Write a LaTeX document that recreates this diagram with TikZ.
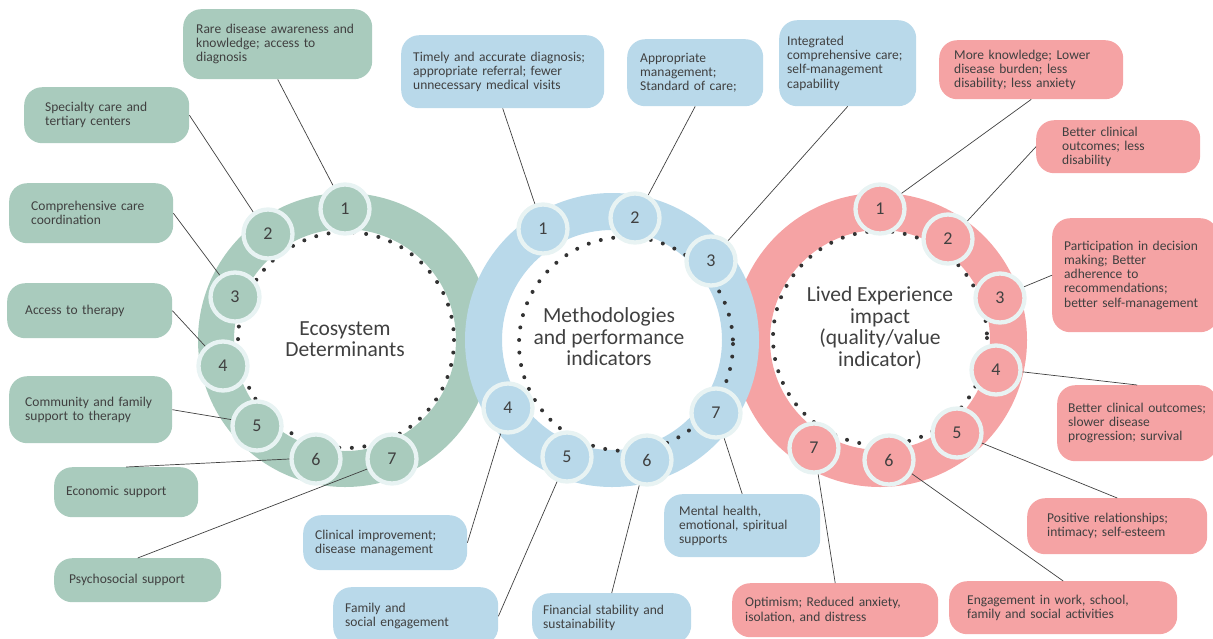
\documentclass[tikz,border=0pt]{standalone}
\usepackage{fontspec}
\setmainfont{Carlito}
\usetikzlibrary{positioning}
\definecolor{ecogreen}{RGB}{169,203,189}
\definecolor{methblue}{RGB}{185,217,234}
\definecolor{livedpink}{RGB}{245,163,164}
\definecolor{rimwhite}{RGB}{232,243,243}
\definecolor{inkgray}{RGB}{64,64,64}
\definecolor{dotgray}{RGB}{51,51,51}
\tikzset{
  txtbox/.style={rounded corners=18pt, anchor=north west, align=left,
                 inner ysep=0pt, text=inkgray,
                 font=\fontsize{13.5}{14.2}\selectfont},
  boxdim/.code n args={3}{%
    \pgfmathsetlengthmacro\boxtw{#1-2*#3}%
    \edef\next{\noexpand\pgfkeysalso{minimum width=#1, minimum height=#2,
      inner xsep=#3, text width=\boxtw}}\next},
  numdot/.style={circle, draw=rimwhite, line width=4.3pt, minimum size=49pt,
                 inner sep=0pt, text=inkgray, font=\fontsize{18}{18}\selectfont},
  dotring/.style={dotgray, line width=4pt, line cap=round,
                  dash pattern=on 0pt off 12.6pt},
  link/.style={inkgray, line width=0.7pt},
  title/.style={align=center, text=inkgray, font=\fontsize{21.5}{21.5}\selectfont},
}
\begin{document}
\begin{tikzpicture}[x=1pt, y=-1pt]
  \useasboundingbox (0,0) rectangle (1213,638);
  \clip (0,0) rectangle (1213,638);

  % rings
  \fill[ecogreen, even odd rule] (345,340) circle[radius=147] (345,340) circle[radius=111];
  \fill[livedpink, even odd rule] (880,340) circle[radius=147] (880,340) circle[radius=110];
  \fill[methblue, even odd rule] (612,340) circle[radius=147] (612,340) circle[radius=110];
  \draw[dotring] (346,340) circle[radius=108];
  \draw[dotring] (626,344) circle[radius=107];
  \draw[dotring] (880,338) circle[radius=107];

  \node[title] (ecotitle) at (345,339) {Ecosystem\\Determinants};
  \node[title] (methtitle) at (609,337) {Methodologies\\and performance\\indicators};
  \node[title] (livedtitle) at (880,328) {Lived Experience\\impact\\(quality/value\\indicator)};

  % numbered circles
  \node[numdot, fill=ecogreen] (e1) at (345,209) {1};
  \node[numdot, fill=ecogreen] (e2) at (268,234) {2};
  \node[numdot, fill=ecogreen] (e3) at (235,297) {3};
  \node[numdot, fill=ecogreen] (e4) at (223,366) {4};
  \node[numdot, fill=ecogreen] (e5) at (257,426) {5};
  \node[numdot, fill=ecogreen] (e6) at (316,459) {6};
  \node[numdot, fill=ecogreen] (e7) at (392,459) {7};

  \node[numdot, fill=methblue] (m1) at (543,229) {1};
  \node[numdot, fill=methblue] (m2) at (635,218) {2};
  \node[numdot, fill=methblue] (m3) at (711,261) {3};
  \node[numdot, fill=methblue] (m4) at (508,408) {4};
  \node[numdot, fill=methblue] (m5) at (567,457) {5};
  \node[numdot, fill=methblue] (m6) at (647,460) {6};
  \node[numdot, fill=methblue] (m7) at (716,413) {7};

  \node[numdot, fill=livedpink] (l1) at (880,209) {1};
  \node[numdot, fill=livedpink] (l2) at (948,239) {2};
  \node[numdot, fill=livedpink] (l3) at (1000,298) {3};
  \node[numdot, fill=livedpink] (l4) at (996,370) {4};
  \node[numdot, fill=livedpink] (l5) at (957,433) {5};
  \node[numdot, fill=livedpink] (l6) at (889,460) {6};
  \node[numdot, fill=livedpink] (l7) at (814,448) {7};

  % text boxes
  \node[txtbox, fill=ecogreen, boxdim={189}{70}{13}] (eb1) at (183,9) {Rare disease awareness and\\knowledge; access to\\diagnosis};
  \node[txtbox, fill=ecogreen, boxdim={165}{56}{21}] (eb2) at (24,87) {Specialty care and\\tertiary centers};
  \node[txtbox, fill=ecogreen, boxdim={164}{60}{22}] (eb3) at (9,183) {Comprehensive care\\coordination};
  \node[txtbox, fill=ecogreen, boxdim={165}{55}{18}] (eb4) at (7,283) {Access to therapy};
  \node[txtbox, fill=ecogreen, boxdim={163}{67}{16}] (eb5) at (9,376) {Community and family\\support to therapy};
  \node[txtbox, fill=ecogreen, boxdim={144}{50}{12}] (eb6) at (54,467) {Economic support};
  \node[txtbox, fill=ecogreen, boxdim={167}{44}{15}] (eb7) at (54,558) {Psychosocial support};

  \node[txtbox, fill=methblue, boxdim={203}{73}{12}] (mb1) at (401,35) {Timely and accurate diagnosis;\\appropriate referral; fewer\\unnecessary medical visits};
  \node[txtbox, fill=methblue, boxdim={136}{67}{13}] (mb2) at (627,39) {Appropriate\\management;\\Standard of care;};
  \node[txtbox, fill=methblue, boxdim={137}{86}{8}] (mb3) at (779,20) {Integrated\\comprehensive care;\\self-management\\capability};
  \node[txtbox, fill=methblue, boxdim={164}{55}{12}] (mb4) at (303,515) {Clinical improvement;\\disease management};
  \node[txtbox, fill=methblue, boxdim={165}{58}{12}] (mb5) at (333,587) {Family and\\social engagement};
  \node[txtbox, fill=methblue, boxdim={159}{50}{11}] (mb6) at (532,593) {Financial stability and\\sustainability};
  \node[txtbox, fill=methblue, boxdim={156}{63}{15}] (mb7) at (664,494) {Mental health,\\emotional, spiritual\\supports};

  \node[txtbox, fill=livedpink, boxdim={184}{59}{15}] (lb1) at (939,40) {More knowledge; Lower\\disease burden; less\\disability; less anxiety};
  \node[txtbox, fill=livedpink, boxdim={164}{53}{26}] (lb2) at (1036,120) {Better clinical\\outcomes; less\\disability};
  \node[txtbox, fill=livedpink, boxdim={166}{114}{12}] (lb3) at (1052,218) {Participation in decision\\making; Better\\adherence to\\recommendations;\\better self-management};
  \node[txtbox, fill=livedpink, boxdim={160}{76}{11}] (lb4) at (1057,385) {Better clinical outcomes;\\slower disease\\progression; survival};
  \node[txtbox, fill=livedpink, boxdim={180}{56}{20}] (lb5) at (1027,498) {Positive relationships;\\intimacy; self-esteem};
  \node[txtbox, fill=livedpink, boxdim={228}{53}{18}] (lb6) at (949,581) {Engagement in work, school,\\family and social activities};
  \node[txtbox, fill=livedpink, boxdim={206}{54}{13}] (lb7) at (732,583) {Optimism; Reduced anxiety,\\isolation, and distress};

  % connectors
  \draw[link] (eb1.south) -- (e1.117);
  \draw[link] (eb2.east) -- (e2.124);
  \draw[link] (eb3.east) -- (e3.125);
  \draw[link] (eb4.east) -- (e4.132);
  \draw[link] (eb5.east) -- (e5.166);
  \draw[link] (eb6.north) -- (e6.180);
  \draw[link] (eb7.north) -- (e7.202);

  \draw[link] (mb1.south) -- (m1.108);
  \draw[link] (mb2.south) -- (m2.60);
  \draw[link] (mb3.south) -- (m3.50);
  \draw[link] (m4.254) -- (mb4.east);
  \draw[link] (m5.248) -- (mb5.east);
  \draw[link] (m6.253) -- (mb6.north);
  \draw[link] (m7.288) -- (mb7.north);

  \draw[link] (l1.36) -- (lb1.south);
  \draw[link] (l2.43) -- (lb2.west);
  \draw[link] (l3.25) -- (lb3.west);
  \draw[link] (l4.-4) -- (lb4.north);
  \draw[link] (l5.-22) -- (lb5.north);
  \draw[link] (l6.-31) -- (lb6.north);
  \draw[link] (l7.-81) -- (lb7.north);
\end{tikzpicture}
\end{document}
